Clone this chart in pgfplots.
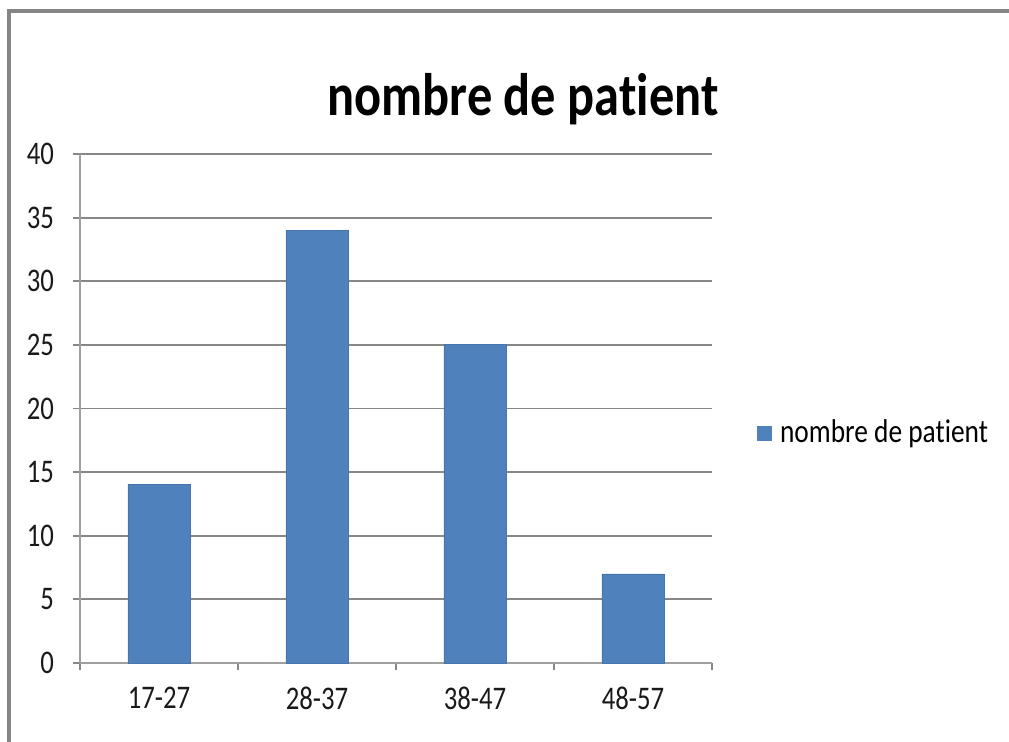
\documentclass[border=0pt]{standalone}
\usepackage{pgfplots}
\pgfplotsset{compat=1.18}
\usepackage{fontspec}
\setmainfont{Carlito}[Ligatures={NoCommon}]
\definecolor{barblue}{HTML}{4F81BD}
\definecolor{gridgray}{HTML}{878787}
\newcommand\sx[1]{\scalebox{0.81}[1]{#1}}
\begin{document}
\begin{tikzpicture}
\useasboundingbox (0,0) rectangle (504.5pt,371pt);
\draw[line width=1.6pt, color=gray!95!white] (4.5pt,0) -- (4.5pt,365.5pt) -- (504.5pt,365.5pt);
\begin{axis}[
  at={(40pt,39.5pt)}, anchor=south west,
  scale only axis, width=316pt, height=254.5pt,
  xmin=-0.5, xmax=3.5, ymin=0, ymax=40,
  xtick={0,1,2,3},
  xticklabels={\sx{17-27},\sx{28-37},\sx{38-47},\sx{48-57}},
  minor xtick={-0.5,0.5,1.5,2.5,3.5},
  ytick={0,5,...,40},
  yticklabel={\sx{\pgfmathprintnumber{\tick}}},
  /pgf/number format/assume math mode=true,
  tick label style={font=\fontsize{16.5}{19}\selectfont, color=black!90},
  xticklabel style={yshift=-5pt},
  yticklabel style={xshift=-6pt},
  major x tick style={draw=none},
  minor x tick style={draw=gridgray, line width=0.9pt},
  major y tick style={draw=gridgray, line width=0.9pt},
  tick align=outside,
  major tick length=3.5pt, minor tick length=3.5pt,
  ymajorgrids, grid style={draw=gridgray, line width=0.9pt},
  axis x line*=bottom, axis y line*=left,
  axis line style={draw=gridgray!80, line width=0.9pt, -},
  legend style={at={(1.071,0.452)}, anchor=west, draw=none, fill=none,
    font=\fontsize{16.5}{19}\selectfont, inner sep=0pt, legend cell align=left},
  legend image code/.code={\fill[barblue] (0pt,-3.5pt) rectangle (7pt,3.5pt);},
  clip=false,
]
\addplot[ybar, bar width=31pt, fill=barblue, draw=barblue!90!black] coordinates {(0,14) (1,34) (2,25) (3,7)};
\addlegendentry{\hspace{2pt}\scalebox{0.83}[1]{nombre de patient}}
\end{axis}
\node[anchor=base, font=\bfseries\fontsize{30}{34}\selectfont] at (261.5pt,313pt) {\scalebox{0.84}[1]{nombre de patient}};
\end{tikzpicture}
\end{document}
